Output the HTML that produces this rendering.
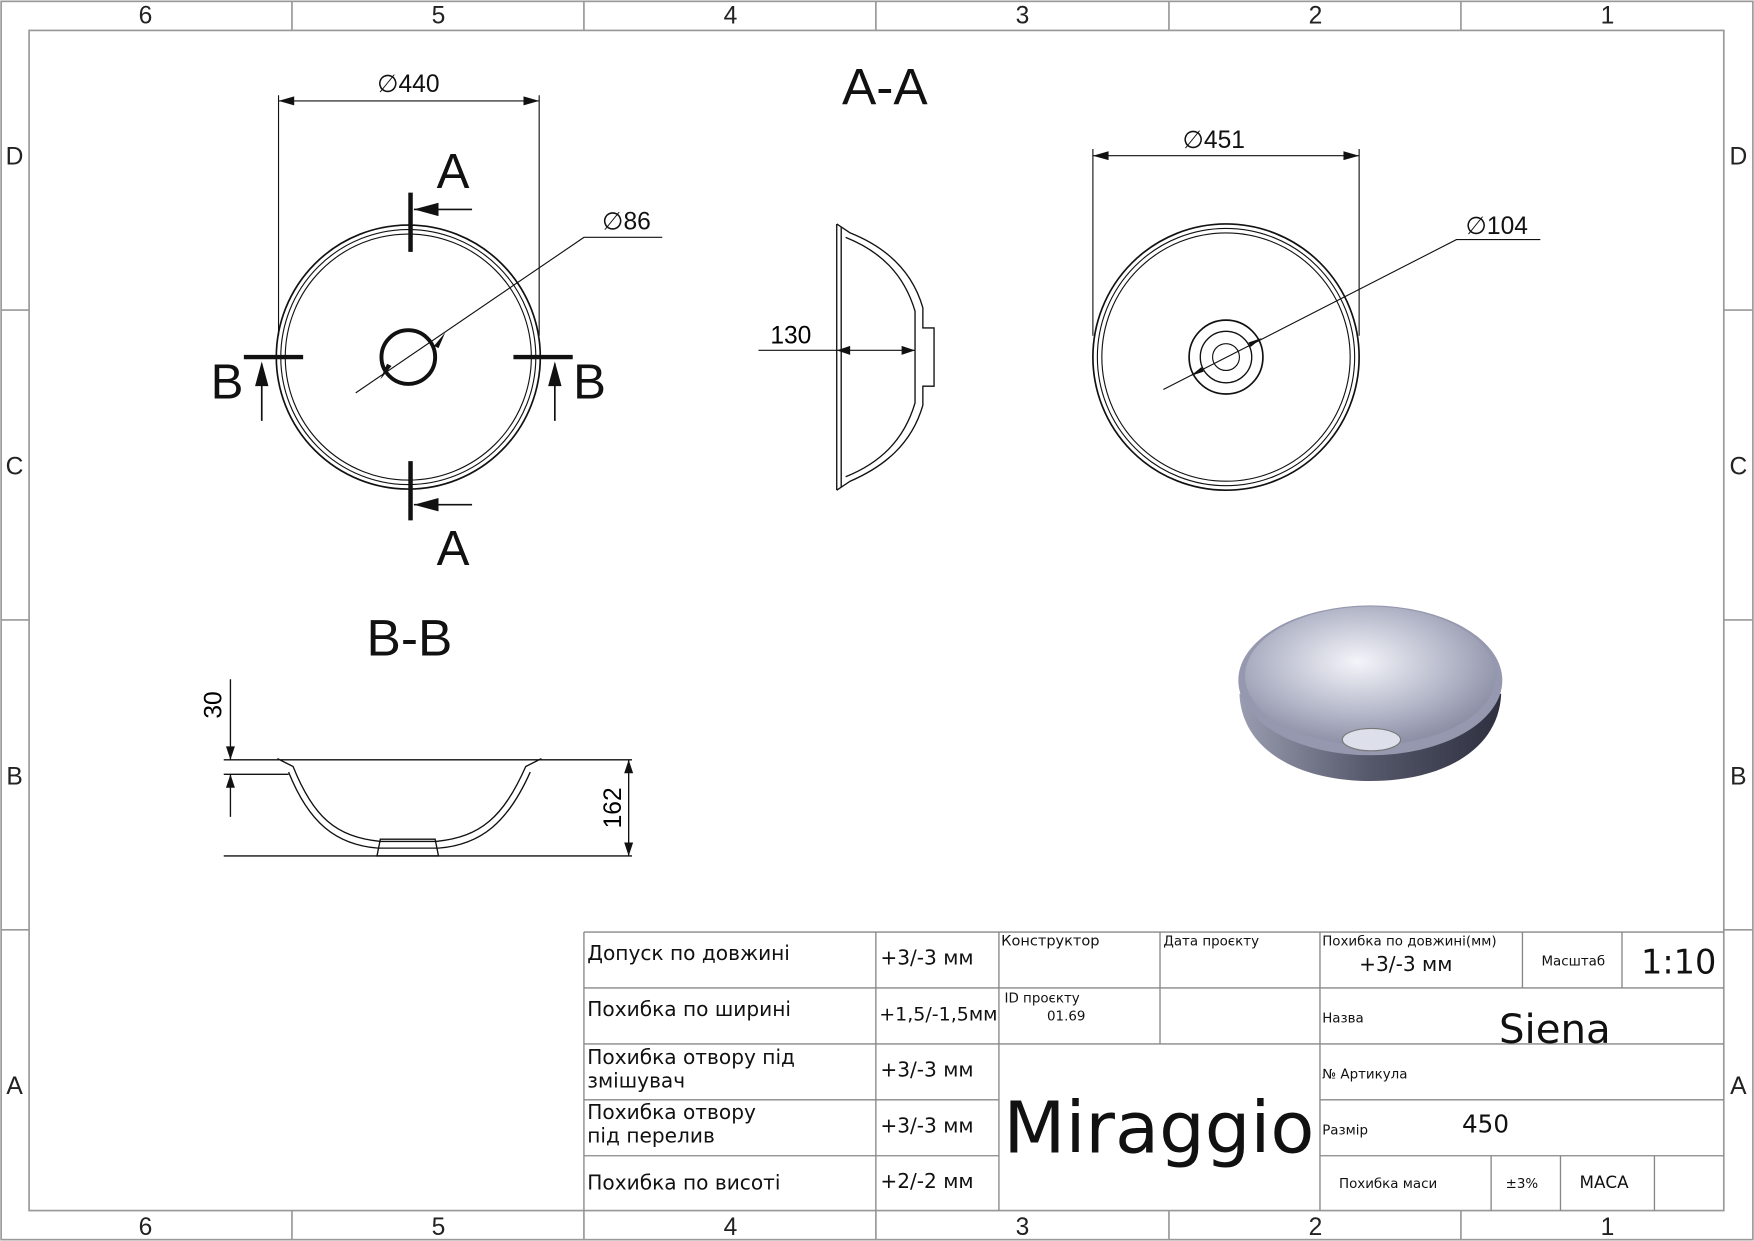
<!DOCTYPE html>
<html><head><meta charset="utf-8"><style>html,body{margin:0;padding:0;background:#fff}svg{display:block}</style></head><body>
<svg width="1754" height="1241" viewBox="0 0 1568 1109" xmlns="http://www.w3.org/2000/svg" font-family="Liberation Sans, sans-serif">
<defs>
<radialGradient id="g1" cx="0.45" cy="0.4" r="0.6"><stop offset="0" stop-color="#f4f5fa"/><stop offset="0.6" stop-color="#b7bacb"/><stop offset="1" stop-color="#8d90a6"/></radialGradient>
<linearGradient id="g2" x1="0" y1="0" x2="1" y2="0"><stop offset="0" stop-color="#9a9db0"/><stop offset="0.5" stop-color="#55586a"/><stop offset="1" stop-color="#2e3040"/></linearGradient>
</defs>
<rect width="1568" height="1109" fill="#fff"/>
<g stroke="#999" stroke-width="1.5" fill="none">
<rect x="1" y="1" width="1566" height="1107"/>
<rect x="26" y="27" width="1515" height="1055"/>
<path d="M261 1V27M522 1V27M783 1V27M1045 1V27M1306 1V27M261 1082V1108M522 1082V1108M783 1082V1108M1045 1082V1108M1306 1082V1108M1 277H26M1 554H26M1 831H26M1541 277H1567M1541 554H1567M1541 831H1567"/>
</g>
<g font-size="22" fill="#222" text-anchor="middle">
<text x="130" y="21">6</text><text x="392" y="21">5</text><text x="653" y="21">4</text><text x="914" y="21">3</text><text x="1176" y="21">2</text><text x="1437" y="21">1</text>
<text x="130" y="1104">6</text><text x="392" y="1104">5</text><text x="653" y="1104">4</text><text x="914" y="1104">3</text><text x="1176" y="1104">2</text><text x="1437" y="1104">1</text>
<text x="13" y="147">D</text><text x="13" y="424">C</text><text x="13" y="701">B</text><text x="13" y="978">A</text>
<text x="1554" y="147">D</text><text x="1554" y="424">C</text><text x="1554" y="701">B</text><text x="1554" y="978">A</text>
</g>
<g stroke="#111" fill="none">
<circle cx="365" cy="319" r="118" stroke-width="1.5"/><circle cx="365" cy="319" r="114" stroke-width="1"/><circle cx="365" cy="319" r="110" stroke-width="1"/>
<circle cx="365" cy="319" r="24" stroke-width="3.5"/>
<path d="M249 85V300M482 85V300M249 90H482" stroke-width="1"/>
<path d="M318 351L522 212H592" stroke-width="1"/>
<path d="M367 172V225M367 412V465M218 319H271M459 319H512" stroke-width="4"/>
<path d="M370 187H422M370 451H422M234 325V376M496 325V376" stroke-width="1.5"/>
</g>
<g fill="#111"><path d="M370 187l22-6v12zM370 451l22-6v12zM234 323l-6 22h12zM496 323l-6 22h12zM249 90l14-4v8zM482 90l-14-4v8zM398 297l-10 12 4 2zM340 339l10-12-4-2z"/></g>
<g fill="#111" text-anchor="middle"><text x="365" y="82" font-size="22">∅440</text><text x="560" y="205" font-size="22">∅86</text>
<text x="405" y="168" font-size="44">A</text><text x="405" y="505" font-size="44">A</text><text x="203" y="356" font-size="44">B</text><text x="527" y="356" font-size="44">B</text>
<text x="791" y="93" font-size="46">A-A</text><text x="366" y="586" font-size="46">B-B</text></g>
<g stroke="#111" fill="none" stroke-width="1.2">
<path d="M748 200V438M752 203V435M748 200L760 208C790 220 815 240 825 275V293H835V345H825V362C815 397 790 417 760 430L748 438"/>
<path d="M756 212C786 224 808 244 818 278V360C808 394 786 414 756 426"/>
<path d="M678 313H818M690 313H740" stroke-width="1"/>
</g>
<g fill="#111"><path d="M748 313l12-4v8zM818 313l-12-4v8z"/></g>
<text x="707" y="307" font-size="22" text-anchor="middle">130</text>
<g stroke="#111" fill="none">
<circle cx="1096" cy="319" r="119" stroke-width="1.5"/><circle cx="1096" cy="319" r="115" stroke-width="1"/><circle cx="1096" cy="319" r="111" stroke-width="1"/>
<circle cx="1096" cy="319" r="33" stroke-width="1.5"/><circle cx="1096" cy="319" r="23" stroke-width="1.2"/><circle cx="1096" cy="319" r="12" stroke-width="1"/>
<path d="M977 133V300M1215 133V300M977 139H1215M1040 348L1302 214H1377" stroke-width="1"/>
</g>
<g fill="#111"><path d="M977 139l14-4v8zM1215 139l-14-4v8zM1128 302l-12 4 2 4zM1064 336l12-4-2-4z"/></g>
<g fill="#111" text-anchor="middle"><text x="1085" y="132" font-size="22">∅451</text><text x="1338" y="209" font-size="22">∅104</text></g>
<g stroke="#111" fill="none" stroke-width="1.2">
<path d="M200 679H565M200 692H258M200 765H565M206 607V679M206 692V730M562 679V765"/>
<path d="M248 678L262 685C280 730 300 748 340 752H390C430 748 450 730 470 685L484 678"/>
<path d="M258 690C276 735 300 755 338 758H392C430 755 454 735 474 690"/>
<path d="M340 750L337 765H392L389 750Z"/>
</g>
<g fill="#111"><path d="M206 679l-4-12h8zM206 692l-4 12h8zM562 679l-4 12h8zM562 765l-4-12h8z"/></g>
<text x="198" y="630" font-size="22" transform="rotate(-90 198 630)" text-anchor="middle">30</text>
<text x="555" y="722" font-size="22" transform="rotate(-90 555 722)" text-anchor="middle">162</text>
<path d="M1108 620C1110 670 1160 698 1225 698C1290 698 1340 670 1342 620Z" fill="url(#g2)"/>
<ellipse cx="1225" cy="608" rx="118" ry="67" fill="#9598ae"/>
<ellipse cx="1225" cy="604" rx="112" ry="62" fill="url(#g1)"/>
<ellipse cx="1226" cy="661" rx="26" ry="10" fill="#dde0ea" stroke="#777"/>
<g stroke="#888" stroke-width="1.2" fill="none">
<path d="M522 833H1541M522 883H1180M522 933H1180M522 983H893M522 1033H893M1180 883H1541M1180 933H1541M1180 983H1541M1180 1033H1541M522 833V1082M783 833V1082M893 833V1082M1037 833V933M1180 833V1082M1361 833V883M1450 833V883M1333 1033V1082M1395 1033V1082M1479 1033V1082M893 933H1180"/>
</g>
<g fill="#111" font-family="DejaVu Sans, sans-serif" font-size="18">
<text x="525" y="858">Допуск по довжині</text><text x="525" y="908">Похибка по ширині</text>
<text x="525" y="951">Похибка отвору під</text><text x="525" y="972">змішувач</text>
<text x="525" y="1000">Похибка отвору</text><text x="525" y="1021">під перелив</text>
<text x="525" y="1063">Похибка по висоті</text>
<text x="787" y="862">+3/-3 мм</text><text x="786" y="912" font-size="17">+1,5/-1,5мм</text><text x="787" y="962">+3/-3 мм</text><text x="787" y="1012">+3/-3 мм</text><text x="787" y="1062">+2/-2 мм</text>
<text x="895" y="845" font-size="13">Конструктор</text><text x="1040" y="845" font-size="12">Дата проєкту</text>
<text x="898" y="896" font-size="12">ID проєкту</text><text x="936" y="912" font-size="12">01.69</text>
<text x="1182" y="845" font-size="12">Похибка по довжині(мм)</text><text x="1215" y="868">+3/-3 мм</text>
<text x="1378" y="863" font-size="12">Масштаб</text><text x="1467" y="870" font-size="30">1:10</text>
<text x="1182" y="914" font-size="12">Назва</text><text x="1340" y="932" font-size="36">Siena</text>
<text x="1182" y="964" font-size="12">№ Артикула</text>
<text x="1182" y="1014" font-size="12">Размір</text><text x="1307" y="1012" font-size="22">450</text>
<text x="1197" y="1062" font-size="12">Похибка маси</text><text x="1346" y="1062" font-size="12">±3%</text><text x="1412" y="1062" font-size="15">МАСА</text>
<text x="897" y="1030" font-size="64" textLength="278" lengthAdjust="spacingAndGlyphs">Miraggio</text>
</g>
</svg>
</body></html>
